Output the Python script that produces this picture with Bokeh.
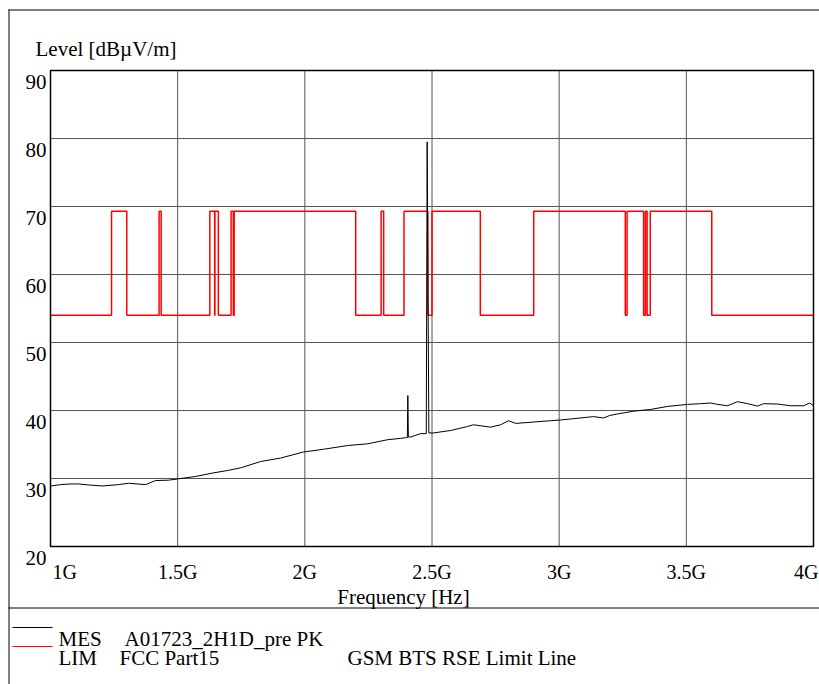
from bokeh.plotting import figure
from bokeh.core.properties import value
from bokeh.embed import file_html
from bokeh.resources import INLINE

# ---- data ----
meas_freq_ghz = [1.000, 1.040, 1.080, 1.110, 1.149, 1.204, 1.267, 1.307, 1.374, 1.413,
                 1.464, 1.503, 1.570, 1.637, 1.700, 1.751, 1.826, 1.904, 1.995, 2.074,
                 2.168, 2.247, 2.325, 2.376, 2.396, 2.403, 2.405, 2.407, 2.416, 2.455,
                 2.4775, 2.481, 2.4876, 2.506, 2.573, 2.640, 2.663, 2.730, 2.770, 2.801,
                 2.829, 2.899, 2.966, 3.005, 3.057, 3.135, 3.175, 3.198, 3.230, 3.293,
                 3.359, 3.426, 3.505, 3.556, 3.595, 3.623, 3.662, 3.701, 3.741, 3.780,
                 3.804, 3.859, 3.910, 3.961, 3.985, 4.000]
meas_level = [28.9, 29.1, 29.2, 29.2, 29.05, 28.9, 29.1, 29.3, 29.1, 29.7,
              29.75, 29.95, 30.3, 30.8, 31.2, 31.6, 32.5, 33.0, 33.9, 34.3,
              34.85, 35.1, 35.7, 35.9, 36.0, 36.0, 42.2, 36.1, 36.1, 36.6,
              36.6, 79.5, 36.7, 36.7, 37.06, 37.65, 37.9, 37.55, 37.9, 38.5,
              38.1, 38.3, 38.5, 38.6, 38.8, 39.1, 38.9, 39.26, 39.5, 39.9,
              40.15, 40.6, 40.9, 41.0, 41.1, 40.9, 40.7, 41.3, 41.0, 40.65,
              41.0, 40.95, 40.7, 40.7, 41.1, 40.7]

lim_edges_ghz = [1.0, 1.24, 1.30, 1.427, 1.435, 1.6265, 1.6455, 1.6465, 1.66, 1.71,
                 1.7188, 1.7222, 2.2, 2.3, 2.31, 2.39, 2.4835, 2.5, 2.69, 2.9,
                 3.26, 3.267, 3.332, 3.339, 3.3458, 3.358, 3.6, 4.0]
lim_levels = [54, 69.3, 54, 69.3, 54, 69.3, 54, 69.3, 54, 69.3,
              54, 69.3, 54, 69.3, 54, 69.3, 54, 69.3, 54, 69.3,
              54, 69.3, 54, 69.3, 54, 69.3, 54]

x_ticks = [1, 1.5, 2, 2.5, 3, 3.5, 4]
x_tick_labels = ["1G", "1.5G", "2G", "2.5G", "3G", "3.5G", "4G"]
y_ticks = [20, 30, 40, 50, 60, 70, 80, 90]
y_tick_labels = ["20", "30", "40", "50", "60", "70", "80", "90"]

y_title = "Level [dBµV/m]"
x_title = "Frequency [Hz]"
legend_codes = ["MES", "LIM"]
legend_names = ["A01723_2H1D_pre PK", "FCC Part15"]
legend_notes = ["", "GSM BTS RSE Limit Line"]
legend_colors = ["black", "#ff0000"]

# ---- layout (page pixels) ----
W, H = 819, 684
BOX_L, BOX_R, BOX_T, BOX_B = 50, 813, 70, 546   # chart box in page pixels
FONT = "Liberation Serif"
FS_TICK = "20px"
FS = "21px"

kx = (BOX_R - BOX_L) / (x_ticks[-1] - x_ticks[0])
ky = (BOX_B - BOX_T) / (y_ticks[-1] - y_ticks[0])
x0 = x_ticks[0] - BOX_L / kx
y1 = y_ticks[-1] + BOX_T / ky


def dx(px):
    return x0 + px / kx


def dy(py):
    return y1 - py / ky


p = figure(width=W, height=H, x_range=(dx(0), dx(W)), y_range=(dy(H), dy(0)),
           output_backend="svg", toolbar_location=None,
           min_border=0, min_border_left=0, min_border_right=0,
           min_border_top=0, min_border_bottom=0)
p.xaxis.visible = False
p.yaxis.visible = False
p.xgrid.visible = False
p.ygrid.visible = False
p.outline_line_color = None
p.background_fill_color = "white"
p.border_fill_color = "white"

# grid lines inside chart box
GRID = "#555555"
p.segment(x0=x_ticks[1:-1], x1=x_ticks[1:-1], y0=y_ticks[0], y1=y_ticks[-1],
          line_color=GRID, line_width=1)
p.segment(x0=x_ticks[0], x1=x_ticks[-1], y0=y_ticks[1:-1], y1=y_ticks[1:-1],
          line_color=GRID, line_width=1)

# limit line as steps
lim_x, lim_y = [], []
for i, lev in enumerate(lim_levels):
    lim_x += [lim_edges_ghz[i], lim_edges_ghz[i + 1]]
    lim_y += [lev, lev]
p.line(lim_x, lim_y, line_color="#ff0000", line_width=1.5)
p.line(meas_freq_ghz, meas_level, line_color="black", line_width=1)

# chart box
p.quad(left=x_ticks[0], right=x_ticks[-1], bottom=y_ticks[0], top=y_ticks[-1],
       fill_color=None, line_color="black", line_width=1.5)

# outer page frame and separator
p.segment(x0=[dx(8), dx(8.5), dx(8)], x1=[dx(W), dx(8.5), dx(W)],
          y0=[dy(9.5), dy(9), dy(607.5)], y1=[dy(9.5), dy(H), dy(607.5)],
          line_color="black", line_width=1)

# y tick labels (top-aligned just below each grid line)
p.text(x=[dx(46)] * len(y_ticks), y=y_ticks, text=y_tick_labels, y_offset=11,
       text_align="right", text_baseline="middle",
       text_font=value(FONT), text_font_size=value(FS), text_color="black")

# x tick labels
xl_align = ["left"] + ["center"] * (len(x_ticks) - 2) + ["right"]
xl_off = [2] + [0] * (len(x_ticks) - 2) + [5]
p.text(x=x_ticks, y=[dy(571)] * len(x_ticks), text=x_tick_labels,
       x_offset=xl_off, text_align=xl_align, text_baseline="middle",
       text_font=value(FONT), text_font_size=value(FS_TICK), text_color="black")

# axis titles
p.text(x=[dx(35)], y=[dy(48)], text=[y_title], text_align="left", text_baseline="middle",
       text_font=value(FONT), text_font_size=value(FS), text_color="black")
p.text(x=[dx(403)], y=[dy(596)], text=[x_title], text_align="center", text_baseline="middle",
       text_font=value(FONT), text_font_size=value(FS), text_color="black")

# legend
sample_y = [627, 646]
row_y = [638, 657]
for i in range(len(legend_codes)):
    p.line([dx(12), dx(52)], [dy(sample_y[i])] * 2, line_color=legend_colors[i], line_width=1.2)
p.text(x=[dx(58)] * 2, y=[dy(v) for v in row_y], text=legend_codes,
       text_align="left", text_baseline="middle",
       text_font=value(FONT), text_font_size=value(FS), text_color="black")
p.text(x=[dx(124), dx(119)], y=[dy(v) for v in row_y], text=legend_names,
       text_align="left", text_baseline="middle",
       text_font=value(FONT), text_font_size=value(FS), text_color="black")
p.text(x=[dx(347)], y=[dy(row_y[1])], text=[legend_notes[1]],
       text_align="left", text_baseline="middle",
       text_font=value(FONT), text_font_size=value(FS), text_color="black")

open("out.html", "w").write(file_html(p, INLINE))
